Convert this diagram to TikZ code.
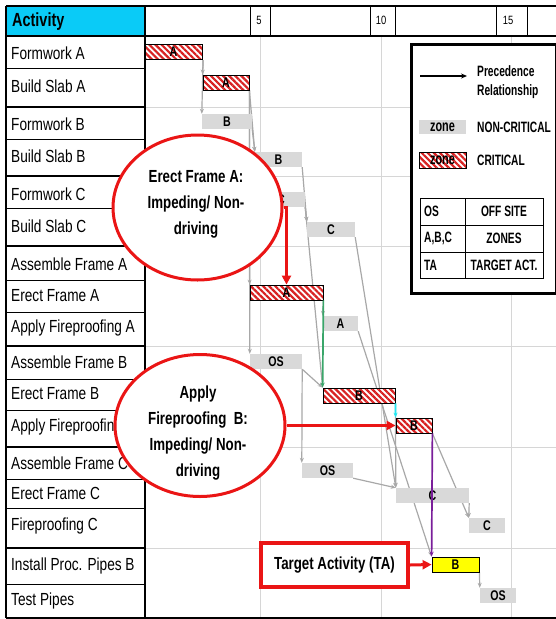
\documentclass[tikz,border=0pt]{standalone}
\usepackage{fontspec}
\setmainfont{Liberation Sans}
\newfontfamily\narrowfont[FakeStretch=0.78]{Liberation Sans}
\newfontfamily\narrowbold[FakeStretch=0.76]{Liberation Sans Bold}
\newfontfamily\legendbold[FakeStretch=0.68]{Liberation Sans Bold}
\usepackage{tikz}
\usetikzlibrary{arrows.meta, positioning, patterns.meta, shapes.geometric, backgrounds}
\definecolor{headCyan}{HTML}{0ACBF7}
\definecolor{barGray}{HTML}{D9D9D9}
\definecolor{arwGray}{HTML}{A8A8A8}
\definecolor{gridGray}{HTML}{D6D6D6}
\definecolor{hatchRed}{HTML}{D82222}
\definecolor{calloutRed}{HTML}{EA1515}
\definecolor{taYellow}{HTML}{FFFF00}
\definecolor{linkGreen}{HTML}{3AA66A}
\definecolor{linkCyan}{HTML}{22E8F2}
\definecolor{linkPurple}{HTML}{7A1E9A}
\tikzstyle{rowlabel} = [anchor=west, inner sep=0pt, font=\narrowfont\fontsize{17.5}{17.5}\selectfont]
\tikzstyle{bar} = [rectangle, minimum height=15pt, inner sep=0pt, font=\narrowbold\fontsize{14}{14}\selectfont]
\tikzstyle{noncrit} = [bar, fill=barGray]
\tikzstyle{crit} = [bar, draw=black, line width=0.8pt, preaction={fill=white},
  pattern={Lines[angle=-45,distance=4.3pt,line width=2.2pt]}, pattern color=hatchRed]
\tikzstyle{target} = [bar, draw=black, line width=0.8pt, fill=taYellow]
\tikzstyle{arw} = [-{Stealth[length=5pt,width=4pt]}, line width=1.2pt, color=arwGray]
\tikzstyle{link} = [-{Stealth[length=5pt,width=4pt]}, line width=1.7pt]
\tikzstyle{callout} = [ellipse, draw=calloutRed, line width=3pt, fill=white, inner sep=0pt]
\tikzstyle{callouttext} = [align=center, inner sep=0pt, font=\narrowbold\fontsize{17.5}{26}\selectfont]
\tikzstyle{redarw} = [-{Triangle[length=9pt,width=9pt]}, line width=3pt, color=calloutRed]
\tikzstyle{legtext} = [inner sep=0pt, font=\legendbold\fontsize{15}{19}\selectfont]
\tikzstyle{tick} = [inner sep=0pt, font=\narrowfont\fontsize{12}{12}\selectfont]

\begin{document}
\begin{tikzpicture}[x=1pt, y=-1pt]
  \useasboundingbox (0,0) rectangle (556,619);

  % Header row
  \node[fill=headCyan, anchor=north west, inner sep=0pt, minimum width=139pt, minimum height=30pt,
    text width=127pt, align=left, font=\narrowbold\fontsize{19}{19}\selectfont] (hdr) at (6,6) {Activity};
  \node[tick] (t5) at (259,20) {5};
  \node[tick] (t10) at (381,20) {10};
  \node[tick] (t15) at (508,20) {15};
  \foreach \x in {250,270,370,395,496,527} {
    \draw[line width=1pt] (\x,6) -- (\x,36);
  }

  % Activity names
  \node[rowlabel] (lfwA) at (11,53) {Formwork A};
  \node[rowlabel] (lbsA) at (11,86) {Build Slab A};
  \node[rowlabel] (lfwB) at (11,124) {Formwork B};
  \node[rowlabel] (lbsB) at (11,156) {Build Slab B};
  \node[rowlabel] (lfwC) at (11,194) {Formwork C};
  \node[rowlabel] (lbsC) at (11,226) {Build Slab C};
  \node[rowlabel] (lamA) at (11,264) {Assemble Frame A};
  \node[rowlabel] (lefA) at (11,296) {Erect Frame A};
  \node[rowlabel] (lafA) at (11,328) {Apply Fireproofing A};
  \node[rowlabel] (lamB) at (11,362) {Assemble Frame B};
  \node[rowlabel] (lefB) at (11,394) {Erect Frame B};
  \node[rowlabel] (lafB) at (11,427) {Apply Fireproofing B};
  \node[rowlabel] (lamC) at (11,463) {Assemble Frame C};
  \node[rowlabel] (lefC) at (11,493) {Erect Frame C};
  \node[rowlabel] (lfpC) at (11,526) {Fireproofing C};
  \node[rowlabel] (lppB) at (11,566) {Install Proc. Pipes B};
  \node[rowlabel] (ltp) at (11,601) {Test Pipes};

  % Table rules
  \foreach \y in {68,139,208,280,312,379,410,479,508,584} {
    \draw[line width=0.8pt] (6,\y) -- (145,\y);
  }
  \foreach \y in {107,176,246,346,447,548} {
    \draw[line width=2.2pt] (6,\y) -- (145,\y);
  }
  \draw[line width=2pt] (6,6) -- (556,6);
  \draw[line width=2pt] (6,36) -- (556,36);
  \draw[line width=2pt] (6,6) -- (6,618);
  \draw[line width=2pt] (145,6) -- (145,618);
  \draw[line width=2pt] (6,618) -- (556,618);

  % Bars
  \node[crit, minimum width=57pt] (fwA) at (173.5,51.5) {A};
  \node[crit, minimum width=46pt] (bsA) at (226,82.5) {A};
  \node[noncrit, minimum width=50pt] (fwB) at (227,121.5) {B};
  \node[noncrit, minimum width=47pt] (bsB) at (278.5,159.5) {B};
  \node[noncrit, minimum width=48pt] (fwC) at (281,199.5) {C};
  \node[noncrit, minimum width=48pt] (bsC) at (331,229.5) {C};
  \node[crit, minimum width=73pt] (efA) at (286.5,292.5) {A};
  \node[noncrit, minimum width=35pt] (afA) at (340.5,323.5) {A};
  \node[noncrit, minimum width=52pt] (amB) at (276,361.5) {OS};
  \node[crit, minimum width=72pt] (efB) at (359,395.5) {B};
  \node[crit, minimum width=36pt] (afB) at (414,425.5) {B};
  \node[noncrit, minimum width=51pt] (amC) at (327.5,470.5) {OS};
  \node[noncrit, minimum width=73pt] (efC) at (432.5,495.5) {C};
  \node[noncrit, minimum width=36pt] (fpC) at (487,525.5) {C};
  \node[target, minimum width=47pt] (ppB) at (455.5,564.5) {B};
  \node[noncrit, minimum width=36pt] (tp) at (498,595.5) {OS};

  \begin{scope}[on background layer]
    % Grid
    \foreach \x in {260,381,511} {
      \draw[gridGray, line width=1pt] (\x,36) -- (\x,618);
    }
    \foreach \y in {107,176,246,346,447,548} {
      \draw[gridGray, line width=1pt] (145,\y) -- (556,\y);
    }
    % Precedence links
    \draw[arw] (fwA.south east) -- (bsA.north west);
    \draw[arw] (fwA.south east) -- (fwB.north west);
    \draw[arw] (bsA.south east) -- (bsB.north west);
    \draw[arw] (fwB.south east) -- (bsB.north west);
    \draw[arw] (bsA.south east) -- (efA.north west);
    \draw[arw] (bsA.south east) -- (amB.north west);
    \draw[arw] (bsB.south east) -- (bsC.north west);
    \draw[arw] (fwC.south east) -- (bsC.north west);
    \draw[arw] (fwC.south east) -- (efB.north west);
    \draw[arw] (bsC.south east) -- (efC.north west);
    \draw[arw] (efA.south east) -- (afA.north west);
    \draw[arw] (amB.south east) -- (efB.north west);
    \draw[arw] (amB.south east) -- (amC.north west);
    \draw[arw] (afA.south east) -- (ppB.north west);
    \draw[arw] (amC.south east) -- (efC.north west);
    \draw[arw] (efB.south east) -- (efC.north west);
    \draw[arw] (afB.south east) -- (fpC.north west);
    \draw[arw] (efC.south east) -- (fpC.north west);
    \draw[arw] (ppB.south east) -- (tp.north west);
  \end{scope}

  % Driving links
  \draw[link, linkGreen] (efA.south east) -- (efB.north west);
  \draw[link, linkCyan] (efB.south east) -- (afB.north west);
  \draw[link, linkPurple] (afB.south east) -- (ppB.north west);

  % Callouts
  \node[callout, minimum width=169pt, minimum height=145pt] (ell1) at (197.5,207.5) {};
  \node[callouttext] (ell1txt) at (196,204) {Erect Frame A:\\Impeding/ Non-\\driving};
  \node[callout, minimum width=170pt, minimum height=142pt] (ell2) at (200,425.5) {};
  \node[callouttext] (ell2txt) at (198,433) {Apply\\Fireproofing~ B:\\Impeding/ Non-\\driving};
  \node[draw=calloutRed, line width=4pt, fill=white, minimum width=147pt, minimum height=44pt,
    inner sep=0pt, font=\narrowbold\fontsize{17.5}{17.5}\selectfont] (ta) at (334.5,565) {Target Activity (TA)};
  \draw[redarw] (ell1.east) -| (efA.north);
  \draw[redarw] (ell2.east) -- (afB.west);
  \draw[redarw] (ta.east) -- (ppB.west);

  % Legend
  \node[draw, line width=2.5pt, fill=white, anchor=north west, minimum width=145pt, minimum height=249pt] (leg) at (410,43) {};
  \coordinate (lgA) at (420,76);
  \coordinate (lgB) at (467,76);
  \draw[-{Stealth[length=6pt,width=5pt]}, line width=1.2pt] (lgA) -- (lgB);
  \node[legtext, anchor=west, align=left] (lgprec) at (477,82) {Precedence\\Relationship};
  \node[noncrit, minimum width=47pt, minimum height=14pt, font=\legendbold\fontsize{16}{16}\selectfont] (lgnc) at (442.5,127) {zone};
  \node[legtext, anchor=west] (lgnctxt) at (477,127) {NON-CRITICAL};
  \node[crit, minimum width=47pt, minimum height=16pt, font=\legendbold\fontsize{16}{16}\selectfont] (lgc) at (442.5,160) {zone};
  \node[legtext, anchor=west] (lgctxt) at (477,160) {CRITICAL};
  \draw[line width=1pt] (420,198) rectangle (543,278);
  \draw[line width=1pt] (420,225) -- (543,225);
  \draw[line width=1pt] (420,252) -- (543,252);
  \draw[line width=1pt] (465,198) -- (465,278);
  \node[legtext, anchor=west] (lgos) at (424,211.5) {OS};
  \node[legtext] (lgostxt) at (504,211.5) {OFF SITE};
  \node[legtext, anchor=west] (lgabc) at (424,238.5) {A,B,C};
  \node[legtext] (lgabctxt) at (504,238.5) {ZONES};
  \node[legtext, anchor=west] (lgta) at (424,265) {TA};
  \node[legtext] (lgtatxt) at (504,265) {TARGET ACT.};
\end{tikzpicture}
\end{document}
